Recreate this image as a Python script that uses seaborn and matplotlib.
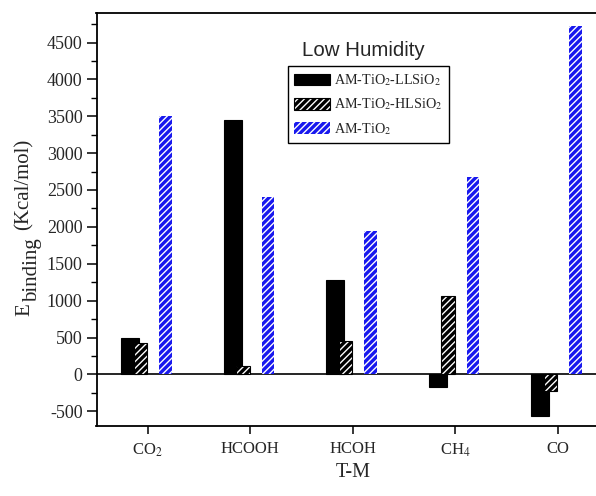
import numpy as np
import matplotlib
matplotlib.use('Agg')
import matplotlib.pyplot as plt
from matplotlib.ticker import AutoMinorLocator
import seaborn as sns

categories = ['CO$_2$', 'HCOOH', 'HCOH', 'CH$_4$', 'CO']
am_tio2_llsio2 = [490, 3450, 1280, -165, -570]
am_tio2_hlsio2 = [430, 120, 450, 1060, -220]
am_tio2 = [3510, 2400, 1940, 2680, 4730]
series_labels = ['AM-TiO$_2$-LLSiO$_2$', 'AM-TiO$_2$-HLSiO$_2$', 'AM-TiO$_2$']
legend_title = 'Low Humidity'
x_label = 'T-M'
y_label_parts = ['E', 'binding', '(Kcal/mol)']
y_ticks = [-500, 0, 500, 1000, 1500, 2000, 2500, 3000, 3500, 4000, 4500]

DPI = 100
W, H = 596, 496

sns.set_style('ticks')
plt.rcParams['font.family'] = ['Liberation Serif', 'DejaVu Serif']
plt.rcParams['mathtext.fontset'] = 'stix'
plt.rcParams['hatch.linewidth'] = 2.4

fig = plt.figure(figsize=(W / DPI, H / DPI), dpi=DPI)
ax = fig.add_axes([96.5 / W, 1 - 426 / H, (609 - 96.5) / W, (426 - 13) / H])

pos = np.arange(len(categories))
series = [am_tio2_llsio2, am_tio2_hlsio2, am_tio2]
styles = [
    dict(offset=-0.17, width=0.175, face='black', edge='black', hatch=None, lw=0.8),
    dict(offset=-0.07, width=0.135, face='white', edge='black', hatch='/////', lw=0.8),
    dict(offset=0.175, width=0.123, face='white', edge='#1818ee', hatch='/////', lw=0.0),
]

for vals, lab, st in zip(series, series_labels, styles):
    sns.barplot(x=pos + st['offset'], y=vals, native_scale=True, orient='x',
                width=st['width'], errorbar=None, saturation=1,
                color=st['face'], label=lab, ax=ax)
    cont = ax.containers[-1]
    for p in cont:
        p.set_facecolor(st['face'])
        p.set_edgecolor(st['edge'])
        p.set_linewidth(st['lw'])
        if st['hatch']:
            p.set_hatch(st['hatch'])

ax.axhline(0, color='black', lw=1.2, zorder=0.5)

ax.set_xlim(-0.5, 4.5)
ax.set_ylim(-700, 4900)
ax.set_xticks(pos)
ax.set_xticklabels(categories, fontsize=12)
ax.set_yticks(y_ticks)
ax.set_yticklabels([str(v) for v in y_ticks], fontsize=13)
ax.yaxis.set_minor_locator(AutoMinorLocator(2))
ax.tick_params(axis='y', which='major', direction='out', length=7, width=1.1,
               color='black', pad=3)
ax.tick_params(axis='y', which='minor', direction='out', length=4, width=1.0, color='black')
ax.tick_params(axis='x', which='major', direction='out', length=6, width=1.1,
               color='black', pad=5)
ax.tick_params(axis='x', which='minor', bottom=False)
for s in ['left', 'bottom', 'top']:
    ax.spines[s].set_visible(True)
    ax.spines[s].set_linewidth(1.3)
    ax.spines[s].set_color('black')
ax.spines['right'].set_visible(False)
ax.grid(False)

ax.set_xlabel(x_label, fontsize=14.5, labelpad=3)

# y label built from pieces (E with a large lowered subscript)
ykw = dict(rotation=90, rotation_mode='anchor', ha='left', va='baseline',
           transform=fig.transFigure)
fig.text(29 / W, 1 - 316 / H, y_label_parts[0], fontsize=15, **ykw)
fig.text(37 / W, 1 - 302 / H, y_label_parts[1], fontsize=15, **ykw)
fig.text(29 / W, 1 - 230 / H, y_label_parts[2], fontsize=15, **ykw)

leg = ax.legend(ax.containers[:3], series_labels, loc='upper left',
                bbox_to_anchor=(288 / W, 1 - 66 / H), bbox_transform=fig.transFigure,
                frameon=True, fancybox=False, edgecolor='black', fontsize=10.2,
                handlelength=2.5, handleheight=0.9, borderpad=0.45, labelspacing=0.6,
                handletextpad=0.3, borderaxespad=0)
leg.get_frame().set_linewidth(1.0)
leg.get_frame().set_alpha(1)

fig.text(363 / W, 1 - 50 / H, legend_title, ha='center', va='center',
         fontsize=14.8, family='Liberation Sans')

fig.savefig('out.png', dpi=DPI)
